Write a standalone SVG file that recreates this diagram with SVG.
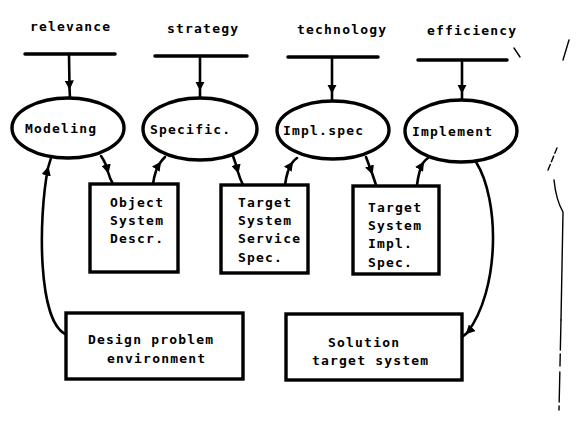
<svg xmlns="http://www.w3.org/2000/svg" width="577" height="423" viewBox="0 0 577 423">
  <style>
    .lbl { font-family: "DejaVu Sans Mono", "Liberation Mono", monospace; font-weight: bold; font-size: 13px; letter-spacing: 1.2px; fill: #000; }
    .bar { stroke: #000; stroke-width: 3.5; stroke-linecap: round; fill: none; }
    .node { fill: #fff; stroke: #000; stroke-width: 3.4; }
    .wire { fill: none; stroke: #000; stroke-width: 2.6; stroke-linecap: round; }
    .stray { fill: none; stroke: #000; stroke-width: 1.4; stroke-linecap: round; }
  </style>
  <defs>
    <marker id="head" viewBox="0 0 10 10" refX="8" refY="5" markerWidth="3.6" markerHeight="3.6" orient="auto" markerUnits="strokeWidth">
      <path d="M0,0 L10,5 L0,10 z" fill="#000"/>
    </marker>
  </defs>
  <rect width="577" height="423" fill="#fff"/>

  <!-- criteria along the top -->
  <g id="criteria">
    <text class="lbl" x="30" y="31">relevance</text>
    <text class="lbl" x="167" y="33">strategy</text>
    <text class="lbl" x="297" y="34">technology</text>
    <text class="lbl" x="427" y="35">efficiency</text>
    <line class="bar" x1="25" y1="54" x2="115" y2="54"/>
    <line class="bar" x1="155" y1="56" x2="247" y2="56"/>
    <line class="bar" x1="288" y1="57" x2="378" y2="57"/>
    <line class="bar" x1="418" y1="60" x2="507" y2="60"/>
  </g>

  <!-- connectors: each arrowhead sits on the single inner vertex -->
  <g id="connectors">
    <path class="wire" d="M69,54 L69.5,88 L70,98" marker-mid="url(#head)"/>
    <path class="wire" d="M200,56 L200,89 L200,98" marker-mid="url(#head)"/>
    <path class="wire" d="M332,57 L332,92 L332,102" marker-mid="url(#head)"/>
    <path class="wire" d="M462,60 L462,92 L462,100" marker-mid="url(#head)"/>

    <path class="wire" d="M101,156 Q106,163 108,172 Q110,179 113,184" marker-mid="url(#head)"/>
    <path class="wire" d="M153,184 Q155,170 160,163 Q162,160 165,157" marker-mid="url(#head)"/>
    <path class="wire" d="M233,156 Q236,164 238,172 Q240,179 243,185" marker-mid="url(#head)"/>
    <path class="wire" d="M285,185 Q287,170 292,163 Q294,160 297,158" marker-mid="url(#head)"/>
    <path class="wire" d="M366,157 Q369,165 372,173 Q374,179 376,185" marker-mid="url(#head)"/>
    <path class="wire" d="M417,185 Q419,170 423,163 Q425,160 428,158" marker-mid="url(#head)"/>

    <path class="wire" d="M65,334 C38,320 38,220 48,168 L51,158" marker-mid="url(#head)"/>
    <path class="wire" d="M476,162 C500,200 500,290 467,333 L462,337" marker-mid="url(#head)"/>
  </g>

  <!-- processes -->
  <g id="modeling">
    <ellipse class="node" cx="68" cy="128" rx="56" ry="30"/>
    <text class="lbl" x="25" y="133">Modeling</text>
  </g>
  <g id="specific">
    <ellipse class="node" cx="200" cy="129" rx="57" ry="31"/>
    <text class="lbl" x="150" y="134">Specific.</text>
  </g>
  <g id="impl-spec">
    <ellipse class="node" cx="333" cy="130" rx="56" ry="29"/>
    <text class="lbl" x="283" y="135">Impl.spec</text>
  </g>
  <g id="implement">
    <ellipse class="node" cx="461" cy="131" rx="56" ry="31"/>
    <text class="lbl" x="412" y="136">Implement</text>
  </g>

  <!-- documents -->
  <g id="object-system-descr">
    <rect class="node" x="90" y="184" width="88" height="88"/>
    <text class="lbl" x="110" y="207">Object</text>
    <text class="lbl" x="110" y="225">System</text>
    <text class="lbl" x="110" y="243">Descr.</text>
  </g>
  <g id="target-system-service-spec">
    <rect class="node" x="221" y="185" width="87" height="88"/>
    <text class="lbl" x="238" y="207">Target</text>
    <text class="lbl" x="238" y="225">System</text>
    <text class="lbl" x="238" y="243">Service</text>
    <text class="lbl" x="238" y="262">Spec.</text>
  </g>
  <g id="target-system-impl-spec">
    <rect class="node" x="353" y="186" width="86" height="88"/>
    <text class="lbl" x="368" y="212">Target</text>
    <text class="lbl" x="368" y="230">System</text>
    <text class="lbl" x="368" y="248">Impl.</text>
    <text class="lbl" x="368" y="267">Spec.</text>
  </g>
  <g id="design-problem-environment">
    <rect class="node" x="66" y="313" width="177" height="66"/>
    <text class="lbl" x="88" y="344">Design problem</text>
    <text class="lbl" x="107" y="363">environment</text>
  </g>
  <g id="solution-target-system">
    <rect class="node" x="286" y="314" width="176" height="66"/>
    <text class="lbl" x="328" y="347">Solution</text>
    <text class="lbl" x="312" y="365">target system</text>
  </g>

  <!-- marks along the right edge -->
  <g id="edge-marks">
    <path class="stray" d="M514,48 L520,57"/>
    <path class="stray" d="M563,60 L569,40" stroke-width="2"/>
    <path class="stray" d="M548,170 L557,148" stroke-dasharray="6 3"/>
    <path class="stray" d="M554,180 Q556,200 563,212 L561,320" stroke-width="1.8"/>
    <path class="stray" d="M561,320 L559,410" stroke-dasharray="30 4 12 6"/>
  </g>
</svg>
